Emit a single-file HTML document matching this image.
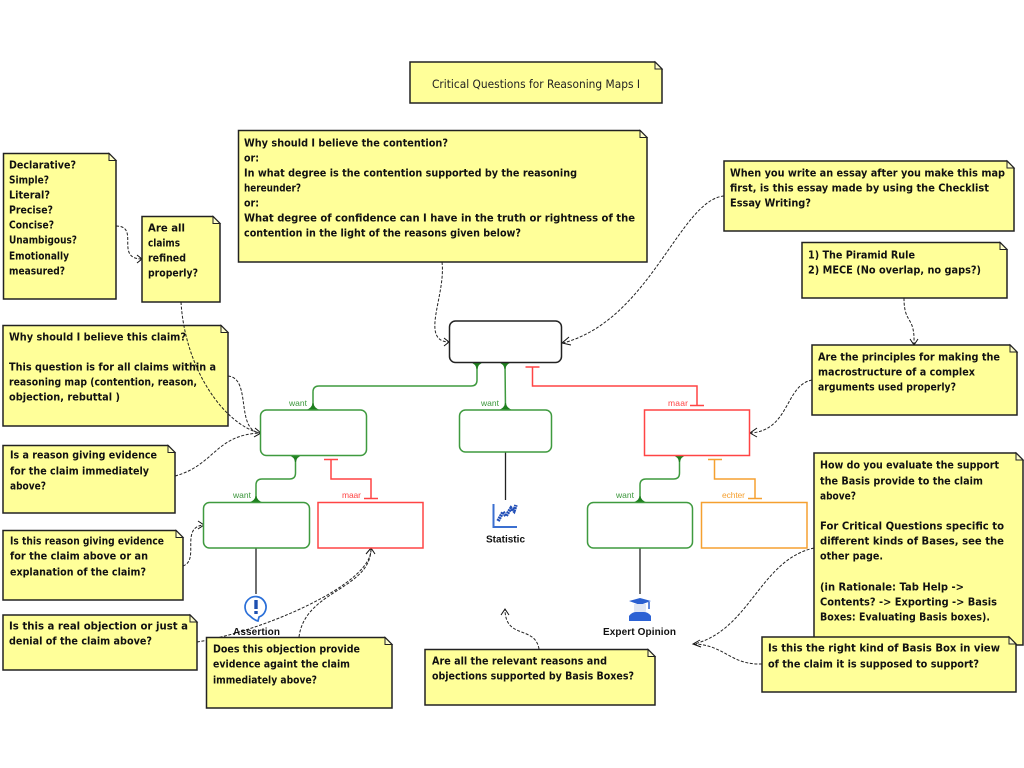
<!DOCTYPE html>
<html lang="en">
<head>
<meta charset="utf-8">
<title>Critical Questions for Reasoning Maps I</title>
<style>
html,body{margin:0;padding:0;background:#fff;width:1024px;height:768px;overflow:hidden}
svg{display:block}
.n{fill:#ffff99;stroke:#222;stroke-width:1.5}
.f{fill:#ffffcc;stroke:#222;stroke-width:1}
.t text{font-family:"DejaVu Sans","Liberation Sans",sans-serif;font-weight:bold;font-size:11px;fill:#111}
.title{font-family:"DejaVu Sans","Liberation Sans",sans-serif;font-size:11.5px;fill:#222}
.d{fill:none;stroke:#222;stroke-width:1;stroke-dasharray:3 1.6}
.a{fill:none;stroke:#111;stroke-width:1}
.k{fill:none;stroke:#222;stroke-width:1.3}
.g{fill:none;stroke:#3f9a3f;stroke-width:1.5}
.r{fill:none;stroke:#f44;stroke-width:1.5}
.o{fill:none;stroke:#f5a030;stroke-width:1.5}
.gf{fill:#1f7f1f;stroke:none}
.l{font-family:"Liberation Sans",sans-serif;font-size:8.5px}
.i{font-family:"Liberation Sans",sans-serif;font-weight:bold;font-size:10px;fill:#111;text-anchor:middle}
</style>
</head>
<body>
<svg width="1024" height="768" viewBox="0 0 1024 768" xmlns="http://www.w3.org/2000/svg">
<rect width="1024" height="768" fill="#fff"/>

<!-- dashed connectors beneath notes -->
<path class="d" d="M442,262C446,295 420,340 448,342"/>
<path class="d" d="M724,196C680,200 650,320 563,343"/>
<path class="d" d="M904,298C904,325 915,315 914,344"/>
<path class="d" d="M812,380C785,385 790,430 751,433"/>
<path class="d" d="M116,226C140,226 115,258 141,259"/>
<path class="d" d="M228,376C252,378 235,430 260,433"/>
<path class="d" d="M175,476C215,465 215,435 260,433"/>
<path class="d" d="M183,566C200,560 180,528 203,525"/>
<path class="d" d="M197,642C260,632 372,585 371,549"/>
<path class="d" d="M299,637C305,590 370,590 371,549"/>
<path class="d" d="M539,649C535,625 505,640 505,609"/>
<path class="d" d="M814,548C760,560 750,630 694,644"/>
<path class="d" d="M762,664C730,665 725,645 694,644"/>

<!-- arrowheads -->
<path class="a" d="M444,338L449,342L444,346"/>
<path class="a" d="M569,337L562,343L571,345"/>
<path class="a" d="M910,339L914,345L918,339"/>
<path class="a" d="M757,428L750,433L757,437"/>
<path class="a" d="M137,255L142,259L137,263"/>
<path class="a" d="M255,428L261,433L254,437"/>
<path class="a" d="M198,521L204,525L198,529"/>
<path class="a" d="M366,554L371,548L375,554"/>
<path class="a" d="M501,615L505,609L509,615"/>
<path class="a" d="M700,640L693,644L701,647"/>

<!-- tree connectors -->
<path class="g" d="M477,362V380Q477,386 471,386H319Q313,386 313,392V410"/>
<path class="g" d="M505,362L505.5,410"/>
<path class="g" d="M295.5,455V473Q295.5,479 289.5,479H262Q256,479 256,485V502"/>
<path class="g" d="M679.5,455V473Q679.5,479 673.5,479H646Q640,479 640,485V502"/>
<path class="gf" d="M470,362H484Q478,364 477.500,369H476.500Q476,364 470,362Z"/>
<path class="gf" d="M498,362H512Q506,364 505.500,369H504.500Q504,364 498,362Z"/>
<path class="gf" d="M306,410H320Q314,408 313.500,403H312.500Q312,408 306,410Z"/>
<path class="gf" d="M498.500,410H512.500Q506.500,408 506,403H505Q504.500,408 498.500,410Z"/>
<path class="gf" d="M288.500,455H302.500Q296.500,457 296,462H295Q294.500,457 288.500,455Z"/>
<path class="gf" d="M249,502.500H263Q257,500.500 256.500,496H255.500Q255,500.500 249,502.500Z"/>
<path class="gf" d="M672.500,455H686.500Q680.500,457 680,462H679Q678.500,457 672.500,455Z"/>
<path class="gf" d="M633,502.500H647Q641,500.500 640.500,496H639.500Q639,500.500 633,502.500Z"/>
<path class="r" d="M525.500,367H539.500M532.500,367V386H697V405M690,405.500H704"/>
<path class="r" d="M324,459.500H338M331,459.500V479H371V498.500M364,498.500H378"/>
<path class="o" d="M708,459.500H722M714.500,459.500V479H755V498.500M748,498.500H762"/>
<path class="k" d="M505.500,452V500M256,548V594M640,548V594"/>

<!-- boxes -->
<rect x="449.500" y="321" width="112" height="41.500" rx="6" fill="#fff" stroke="#222" stroke-width="1.500"/>
<rect x="260.500" y="410" width="106" height="45.500" rx="6" fill="#fff" stroke="#3f9a3f" stroke-width="1.500"/>
<rect x="459.500" y="410" width="92" height="42" rx="6" fill="#fff" stroke="#3f9a3f" stroke-width="1.500"/>
<rect x="644.500" y="410" width="105" height="45.500" fill="#fff" stroke="#f44" stroke-width="1.500"/>
<rect x="203.500" y="502.500" width="106" height="45.500" rx="6" fill="#fff" stroke="#3f9a3f" stroke-width="1.500"/>
<rect x="318" y="502.500" width="105" height="45.500" fill="#fff" stroke="#f44" stroke-width="1.500"/>
<rect x="587.500" y="502.500" width="105" height="45.500" rx="6" fill="#fff" stroke="#3f9a3f" stroke-width="1.500"/>
<rect x="701.500" y="502.500" width="105.500" height="45.500" fill="#fff" stroke="#f5a030" stroke-width="1.500"/>

<!-- connector labels -->
<text class="l" x="289" y="406" fill="#3a963a" textLength="18">want</text>
<text class="l" x="481" y="406" fill="#3a963a" textLength="18">want</text>
<text class="l" x="668" y="406" fill="#f44" textLength="20">maar</text>
<text class="l" x="233" y="498" fill="#3a963a" textLength="18">want</text>
<text class="l" x="342" y="498" fill="#f44" textLength="19">maar</text>
<text class="l" x="616" y="498" fill="#3a963a" textLength="18">want</text>
<text class="l" x="722" y="498" fill="#f5a030" textLength="23">echter</text>

<!-- icons -->
<path d="M493.500,504V527H517" fill="none" stroke="#3b6fd0" stroke-width="2"/>
<path d="M498,521L503,512L506,516L511,508L514,511L516,505" fill="none" stroke="#2350b8" stroke-width="3.500" stroke-dasharray="2 0.600"/>
<text class="i" x="505.500" y="542.500" textLength="39">Statistic</text>

<path d="M250,616A10.500,10.500 0 1 1 259,617L258,621Q254,620 250,616Z" fill="#fff" stroke="#2a6fd8" stroke-width="1.700"/>
<rect x="254.300" y="600" width="3.400" height="9" fill="#1d4fb0"/>
<rect x="254.300" y="611" width="3.400" height="3" fill="#1d4fb0"/>
<text class="i" x="256.500" y="635" textLength="47">Assertion</text>

<path d="M629,601L640,598L651,601L640,605Z" fill="#2a5fd0"/>
<path d="M634,604H646V610A6,6 0 0 1 634,610Z" fill="#dfe6f5"/>
<path d="M629,621V616Q632,612 636,612H644Q648,612 651,616V621Z" fill="#2c62d4"/>
<path d="M649,602V609" stroke="#2a5fd0" stroke-width="1.500"/>
<text class="i" x="639.500" y="635" textLength="73">Expert Opinion</text>

<!-- notes -->
<path class="n" d="M410,62H655L662,69V103H410Z"/><path class="f" d="M655,62V69H662Z"/>
<text class="title" x="432" y="88" textLength="208" lengthAdjust="spacingAndGlyphs">Critical Questions for Reasoning Maps I</text>

<path class="n" d="M238.500,130.500H640L647,137.500V262H238.500Z"/><path class="f" d="M640,130.500V137.500H647Z"/>
<path class="n" d="M3.500,153.500H109L116,160.500V299H3.500Z"/><path class="f" d="M109,153.500V160.500H116Z"/>
<path class="n" d="M142,216.500H213L220,223.500V302H142Z"/><path class="f" d="M213,216.500V223.500H220Z"/>
<path class="n" d="M3,325.500H221L228,332.500V426H3Z"/><path class="f" d="M221,325.500V332.500H228Z"/>
<path class="n" d="M3,445.500H168L175,452.500V513H3Z"/><path class="f" d="M168,445.500V452.500H175Z"/>
<path class="n" d="M3,530.500H176L183,537.500V600H3Z"/><path class="f" d="M176,530.500V537.500H183Z"/>
<path class="n" d="M3,615H190L197,622V670H3Z"/><path class="f" d="M190,615V622H197Z"/>
<path class="n" d="M206.500,637.500H385L392,644.500V708H206.500Z"/><path class="f" d="M385,637.500V644.500H392Z"/>
<path class="n" d="M425,649.500H648L655,656.500V705H425Z"/><path class="f" d="M648,649.500V656.500H655Z"/>
<path class="n" d="M724,161H1007L1014,168V231H724Z"/><path class="f" d="M1007,161V168H1014Z"/>
<path class="n" d="M802,242.500H1000L1007,249.500V298H802Z"/><path class="f" d="M1000,242.500V249.500H1007Z"/>
<path class="n" d="M812,345H1010L1017,352V415H812Z"/><path class="f" d="M1010,345V352H1017Z"/>
<path class="n" d="M814,453H1016L1023,460V645H814Z"/><path class="f" d="M1016,453V460H1023Z"/>
<path class="n" d="M762,637H1009L1016,644V692H762Z"/><path class="f" d="M1009,637V644H1016Z"/>

<!-- note text -->
<g class="t" transform="translate(0,-0.7)">
<text x="244" y="147" textLength="204" lengthAdjust="spacingAndGlyphs">Why should I believe the contention?</text>
<text x="244" y="162" textLength="15" lengthAdjust="spacingAndGlyphs">or:</text>
<text x="244" y="177" textLength="333" lengthAdjust="spacingAndGlyphs">In what degree is the contention supported by the reasoning</text>
<text x="244" y="192" textLength="57" lengthAdjust="spacingAndGlyphs">hereunder?</text>
<text x="244" y="207" textLength="15" lengthAdjust="spacingAndGlyphs">or:</text>
<text x="244" y="222" textLength="391" lengthAdjust="spacingAndGlyphs">What degree of confidence can I have in the truth or rightness of the</text>
<text x="244" y="237" textLength="277" lengthAdjust="spacingAndGlyphs">contention in the light of the reasons given below?</text>

<text x="9" y="169" textLength="67" lengthAdjust="spacingAndGlyphs">Declarative?</text>
<text x="9" y="184" textLength="40" lengthAdjust="spacingAndGlyphs">Simple?</text>
<text x="9" y="199" textLength="41" lengthAdjust="spacingAndGlyphs">Literal?</text>
<text x="9" y="214" textLength="44" lengthAdjust="spacingAndGlyphs">Precise?</text>
<text x="9" y="229" textLength="45" lengthAdjust="spacingAndGlyphs">Concise?</text>
<text x="9" y="244" textLength="68" lengthAdjust="spacingAndGlyphs">Unambigous?</text>
<text x="9" y="260" textLength="60" lengthAdjust="spacingAndGlyphs">Emotionally</text>
<text x="9" y="275" textLength="56" lengthAdjust="spacingAndGlyphs">measured?</text>

<text x="148" y="232" textLength="37" lengthAdjust="spacingAndGlyphs">Are all</text>
<text x="148" y="247" textLength="32" lengthAdjust="spacingAndGlyphs">claims</text>
<text x="148" y="262" textLength="38" lengthAdjust="spacingAndGlyphs">refined</text>
<text x="148" y="277" textLength="50" lengthAdjust="spacingAndGlyphs">properly?</text>

<text x="9" y="341" textLength="177" lengthAdjust="spacingAndGlyphs">Why should I believe this claim?</text>
<text x="9" y="371" textLength="207" lengthAdjust="spacingAndGlyphs">This question is for all claims within a</text>
<text x="9" y="386" textLength="188" lengthAdjust="spacingAndGlyphs">reasoning map (contention, reason,</text>
<text x="9" y="401" textLength="111" lengthAdjust="spacingAndGlyphs">objection, rebuttal )</text>

<text x="10" y="459" textLength="147" lengthAdjust="spacingAndGlyphs">Is a reason giving evidence</text>
<text x="10" y="475" textLength="139" lengthAdjust="spacingAndGlyphs">for the claim immediately</text>
<text x="10" y="490" textLength="36" lengthAdjust="spacingAndGlyphs">above?</text>

<text x="10" y="545" textLength="154" lengthAdjust="spacingAndGlyphs">Is this reason giving evidence</text>
<text x="10" y="560" textLength="138" lengthAdjust="spacingAndGlyphs">for the claim above or an</text>
<text x="10" y="576" textLength="136" lengthAdjust="spacingAndGlyphs">explanation of the claim?</text>

<text x="9" y="630" textLength="179" lengthAdjust="spacingAndGlyphs">Is this a real objection or just a</text>
<text x="9" y="645" textLength="143" lengthAdjust="spacingAndGlyphs">denial of the claim above?</text>

<text x="213" y="653" textLength="147" lengthAdjust="spacingAndGlyphs">Does this objection provide</text>
<text x="213" y="668" textLength="137" lengthAdjust="spacingAndGlyphs">evidence againt the claim</text>
<text x="213" y="684" textLength="104" lengthAdjust="spacingAndGlyphs">immediately above?</text>

<text x="432" y="665" textLength="175" lengthAdjust="spacingAndGlyphs">Are all the relevant reasons and</text>
<text x="432" y="680" textLength="202" lengthAdjust="spacingAndGlyphs">objections supported by Basis Boxes?</text>

<text x="730" y="177" textLength="275" lengthAdjust="spacingAndGlyphs">When you write an essay after you make this map</text>
<text x="730" y="192" textLength="259" lengthAdjust="spacingAndGlyphs">first, is this essay made by using the Checklist</text>
<text x="730" y="207" textLength="81" lengthAdjust="spacingAndGlyphs">Essay Writing?</text>

<text x="808" y="259" textLength="107" lengthAdjust="spacingAndGlyphs">1) The Piramid Rule</text>
<text x="808" y="274" textLength="173" lengthAdjust="spacingAndGlyphs">2) MECE (No overlap, no gaps?)</text>

<text x="818" y="361" textLength="182" lengthAdjust="spacingAndGlyphs">Are the principles for making the</text>
<text x="818" y="376" textLength="157" lengthAdjust="spacingAndGlyphs">macrostructure of a complex</text>
<text x="818" y="391" textLength="138" lengthAdjust="spacingAndGlyphs">arguments used properly?</text>

<text x="820" y="469" textLength="179" lengthAdjust="spacingAndGlyphs">How do you evaluate the support</text>
<text x="820" y="485" textLength="163" lengthAdjust="spacingAndGlyphs">the Basis provide to the claim</text>
<text x="820" y="500" textLength="36" lengthAdjust="spacingAndGlyphs">above?</text>
<text x="820" y="530" textLength="184" lengthAdjust="spacingAndGlyphs">For Critical Questions specific to</text>
<text x="820" y="545" textLength="184" lengthAdjust="spacingAndGlyphs">different kinds of Bases, see the</text>
<text x="820" y="560" textLength="63" lengthAdjust="spacingAndGlyphs">other page.</text>
<text x="820" y="591" textLength="144" lengthAdjust="spacingAndGlyphs">(in Rationale: Tab Help -&gt;</text>
<text x="820" y="606" textLength="177" lengthAdjust="spacingAndGlyphs">Contents? -&gt; Exporting -&gt; Basis</text>
<text x="820" y="621" textLength="170" lengthAdjust="spacingAndGlyphs">Boxes: Evaluating Basis boxes).</text>

<text x="768" y="652" textLength="232" lengthAdjust="spacingAndGlyphs">Is this the right kind of Basis Box in view</text>
<text x="768" y="668" textLength="211" lengthAdjust="spacingAndGlyphs">of the claim it is supposed to support?</text>
</g>

<!-- connector visible across the note -->
<path class="d" d="M181,302C185,370 225,425 260,433"/>
</svg>
</body>
</html>
